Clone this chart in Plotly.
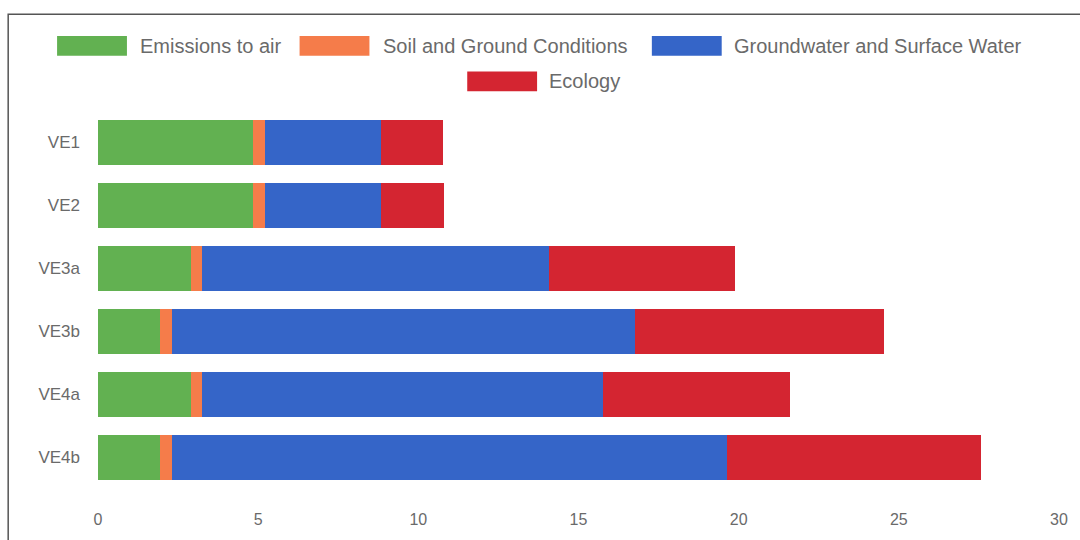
import plotly.graph_objects as go

# ---- data ----
categories = ["VE1", "VE2", "VE3a", "VE3b", "VE4a", "VE4b"]
series_names = ["Emissions to air", "Soil and Ground Conditions",
                "Groundwater and Surface Water", "Ecology"]
emissions_to_air = [4.83, 4.83, 2.90, 1.95, 2.90, 1.95]
soil_and_ground = [0.37, 0.37, 0.34, 0.35, 0.34, 0.35]
groundwater_surface = [3.65, 3.65, 10.84, 14.46, 12.52, 17.33]
ecology = [1.93, 1.95, 5.82, 7.79, 5.84, 7.94]
x_ticks = [0, 5, 10, 15, 20, 25, 30]

colors = ["#62b151", "#f57c4a", "#3565c8", "#d42531"]
values = [emissions_to_air, soil_and_ground, groundwater_surface, ecology]

# ---- layout geometry (pixels) ----
W, H = 1080, 540
ML, MR, MT, MB = 98, 19, 111, 46
PW, PH = W - ML - MR, H - MT - MB


def px(p):
    return (p - ML) / PW


def py(p):
    return (H - MB - p) / PH


fig = go.Figure()
for name, vals, col in zip(series_names, values, colors):
    fig.add_trace(go.Bar(
        y=categories, x=vals, name=name, orientation="h",
        marker=dict(color=col, line=dict(width=0)),
        showlegend=False,
    ))

# custom legend (Chart.js style wide swatches)
legend_items = [  # swatch left px, row center px, text left px
    (57, 45, 138),
    (300, 45, 382),
    (653, 45, 733),
    (468, 81, 548),
]
shapes = []
annotations = []
for (sx, cy, tx), name, col in zip(legend_items, series_names, colors):
    shapes.append(dict(type="rect", xref="paper", yref="paper",
                       x0=px(sx), x1=px(sx + 70), y0=py(cy - 10), y1=py(cy + 10),
                       fillcolor=col, line=dict(width=0)))
    annotations.append(dict(text=name, xref="paper", yref="paper",
                            x=px(tx), y=py(cy), xanchor="left", yanchor="middle",
                            showarrow=False,
                            font=dict(size=20, color="#6a6a6a",
                                      family="Liberation Sans, Arial, sans-serif")))

# frame border (scanned look)
shapes.append(dict(type="rect", xref="paper", yref="paper",
                   x0=px(8), x1=px(1100), y0=py(560), y1=py(13),
                   line=dict(color="#555555", width=1.5), fillcolor="rgba(0,0,0,0)"))

fig.update_layout(
    width=W, height=H,
    margin=dict(l=ML, r=MR, t=MT, b=MB),
    barmode="stack", bargap=0.3,
    paper_bgcolor="white", plot_bgcolor="white",
    font=dict(family="Liberation Sans, Arial, sans-serif", color="#6a6a6a"),
    shapes=shapes, annotations=annotations,
    xaxis=dict(range=[0, 30], tickvals=x_ticks, showgrid=False, zeroline=False,
               showline=False, ticks="", ticklabelstandoff=19,
               tickfont=dict(size=16, color="#6a6a6a")),
    yaxis=dict(categoryorder="array", categoryarray=categories,
               autorange="reversed", showgrid=False, zeroline=False,
               showline=False, ticks="", ticklabelstandoff=17,
               tickfont=dict(size=17, color="#6a6a6a")),
)

fig.write_html("out.html")
